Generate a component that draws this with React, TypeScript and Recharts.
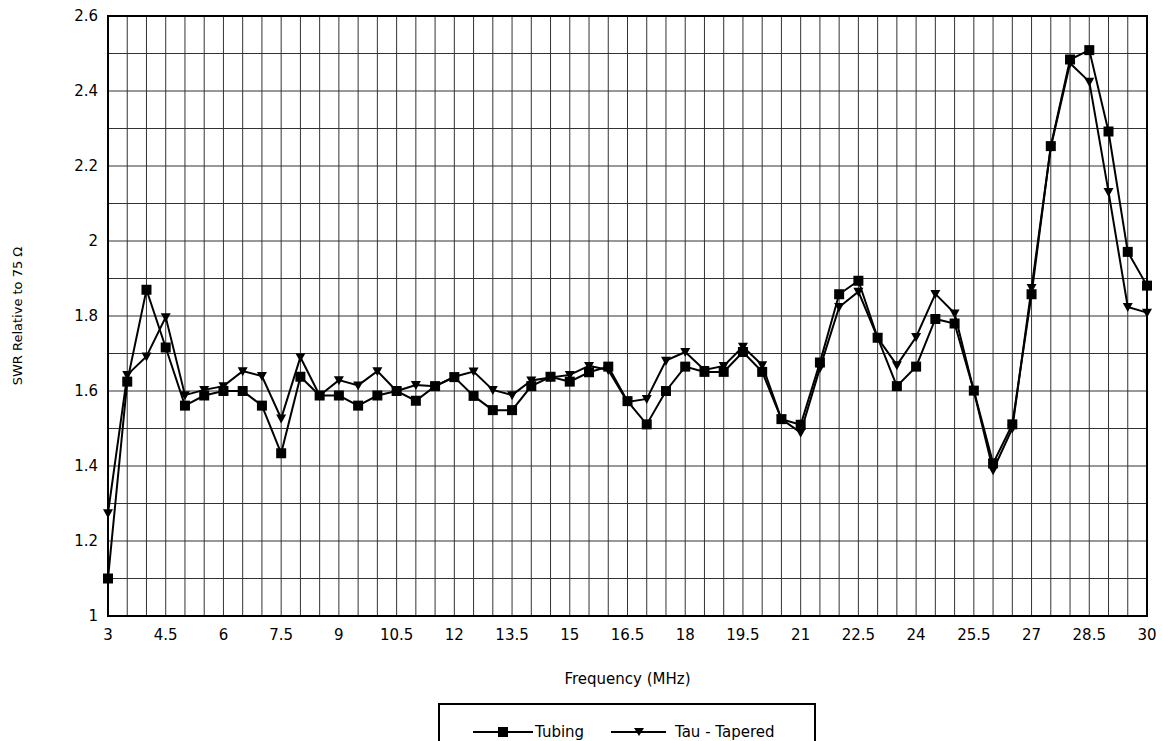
import React from 'react';
import { LineChart, Line, XAxis, YAxis, CartesianGrid, ReferenceArea } from 'recharts';

const freqs = [
  3, 3.5, 4, 4.5, 5, 5.5, 6, 6.5, 7, 7.5, 8, 8.5, 9, 9.5, 10, 10.5, 11, 11.5, 12, 12.5,
  13, 13.5, 14, 14.5, 15, 15.5, 16, 16.5, 17, 17.5, 18, 18.5, 19, 19.5, 20, 20.5, 21, 21.5,
  22, 22.5, 23, 23.5, 24, 24.5, 25, 25.5, 26, 26.5, 27, 27.5, 28, 28.5, 29, 29.5, 30,
];

const tubing = [
  1.1, 1.625, 1.87, 1.716, 1.561, 1.588, 1.6, 1.6, 1.561, 1.434, 1.638, 1.588, 1.588, 1.561,
  1.588, 1.6, 1.574, 1.613, 1.637, 1.587, 1.549, 1.549, 1.613, 1.638, 1.625, 1.65, 1.665,
  1.573, 1.511, 1.6, 1.665, 1.651, 1.651, 1.704, 1.651, 1.525, 1.51, 1.676, 1.858, 1.894,
  1.742, 1.613, 1.665, 1.792, 1.78, 1.601, 1.407, 1.511, 1.858, 2.253, 2.484, 2.509, 2.292,
  1.971, 1.881,
];

const tauTapered = [
  1.274, 1.643, 1.692, 1.797, 1.589, 1.603, 1.613, 1.653, 1.64, 1.527, 1.69, 1.588, 1.629,
  1.615, 1.653, 1.6, 1.616, 1.613, 1.638, 1.652, 1.603, 1.589, 1.628, 1.636, 1.643, 1.667,
  1.656, 1.571, 1.579, 1.681, 1.704, 1.656, 1.667, 1.718, 1.669, 1.525, 1.489, 1.661, 1.824,
  1.865, 1.742, 1.669, 1.744, 1.859, 1.807, 1.6, 1.389, 1.5, 1.875, 2.25, 2.474, 2.425,
  2.131, 1.824, 1.809,
];

// grid every 0.5 MHz / 0.1 SWR, labels every 1.5 MHz / 0.2 SWR
const xGridTicks = freqs;
const xLabelTicks = [3, 4.5, 6, 7.5, 9, 10.5, 12, 13.5, 15, 16.5, 18, 19.5, 21, 22.5, 24, 25.5, 27, 28.5, 30];
const yGridTicks = [1, 1.1, 1.2, 1.3, 1.4, 1.5, 1.6, 1.7, 1.8, 1.9, 2, 2.1, 2.2, 2.3, 2.4, 2.5, 2.6];
const yLabelTicks = [1, 1.2, 1.4, 1.6, 1.8, 2, 2.2, 2.4, 2.6];

const data = freqs.map((f, i) => ({ f, tubing: tubing[i], tau: tauTapered[i] }));

const font = '"DejaVu Sans", sans-serif';

const SquareDot = (props: any) => {
  const { cx, cy } = props;
  if (cx == null || cy == null) return null;
  return <rect key={`s${props.index}`} x={cx - 5} y={cy - 5} width={10} height={10} fill="#000" />;
};

const TriDot = (props: any) => {
  const { cx, cy } = props;
  if (cx == null || cy == null) return null;
  return (
    <path
      key={`t${props.index}`}
      d={`M${cx - 5},${cy - 4} L${cx + 5},${cy - 4} L${cx},${cy + 5} Z`}
      fill="#000"
    />
  );
};

const isLabel = (v: number, list: number[]) => list.some((t) => Math.abs(t - v) < 1e-6);

const LegendBox = () => (
  <div
    style={{
      position: 'absolute',
      left: 438,
      top: 703,
      width: 378,
      height: 58,
      border: '2px solid #000',
      boxSizing: 'border-box',
      display: 'flex',
      alignItems: 'center',
      paddingLeft: 33,
      fontFamily: font,
      fontSize: 15,
      color: '#000',
      background: '#fff',
    }}
  >
    <svg width={60} height={12} style={{ flex: 'none' }}>
      <line x1={0} y1={6} x2={60} y2={6} stroke="#000" strokeWidth={2} />
      <rect x={25} y={1} width={10} height={10} fill="#000" />
    </svg>
    <span style={{ marginLeft: 2, width: 76, flex: 'none' }}>Tubing</span>
    <svg width={55} height={12} style={{ flex: 'none' }}>
      <line x1={0} y1={6} x2={55} y2={6} stroke="#000" strokeWidth={2} />
      <path d="M23,2 L33,2 L28,10 Z" fill="#000" />
    </svg>
    <span style={{ marginLeft: 9 }}>Tau - Tapered</span>
  </div>
);

export default function App() {
  return (
    <div
      style={{
        position: 'absolute',
        left: 0,
        top: 0,
        width: 1163,
        height: 741,
        overflow: 'hidden',
        background: '#fff',
      }}
    >
      <LineChart
        width={1163}
        height={741}
        data={data}
        margin={{ top: 16, right: 16, left: 0, bottom: 45 }}
      >
        <CartesianGrid stroke="#333" strokeWidth={1} />
        <XAxis
          dataKey="f"
          type="number"
          domain={[3, 30]}
          ticks={xGridTicks}
          interval={0}
          tickLine={false}
          axisLine={{ stroke: '#000', strokeWidth: 2 }}
          tick={{ fill: '#000', fontSize: 15, fontFamily: font }}
          tickMargin={7}
          tickFormatter={(v: number) => (isLabel(v, xLabelTicks) ? String(v) : '')}
          height={80}
          label={{
            value: 'Frequency (MHz)',
            position: 'insideBottom',
            offset: 12,
            fill: '#000',
            fontSize: 15,
            fontFamily: font,
          }}
        />
        <YAxis
          type="number"
          domain={[1, 2.6]}
          ticks={yGridTicks}
          interval={0}
          tickLine={false}
          axisLine={{ stroke: '#000', strokeWidth: 2 }}
          tick={{ fill: '#000', fontSize: 15, fontFamily: font }}
          tickMargin={4}
          tickFormatter={(v: number) => (isLabel(v, yLabelTicks) ? String(v) : '')}
          width={108}
          label={{
            value: 'SWR Relative to 75 Ω',
            angle: -90,
            position: 'insideLeft',
            offset: 17,
            style: { textAnchor: 'middle' },
            fill: '#000',
            fontSize: 13,
            fontFamily: font,
          }}
        />
        <ReferenceArea x1={3} x2={30} y1={1} y2={2.6} fill="none" stroke="#000" strokeWidth={2} ifOverflow="visible" />
        <Line
          type="linear"
          dataKey="tubing"
          name="Tubing"
          stroke="#000"
          strokeWidth={2}
          dot={SquareDot}
          activeDot={false}
          isAnimationActive={false}
        />
        <Line
          type="linear"
          dataKey="tau"
          name="Tau - Tapered"
          stroke="#000"
          strokeWidth={2}
          dot={TriDot}
          activeDot={false}
          isAnimationActive={false}
        />
      </LineChart>
      <LegendBox />
    </div>
  );
}
